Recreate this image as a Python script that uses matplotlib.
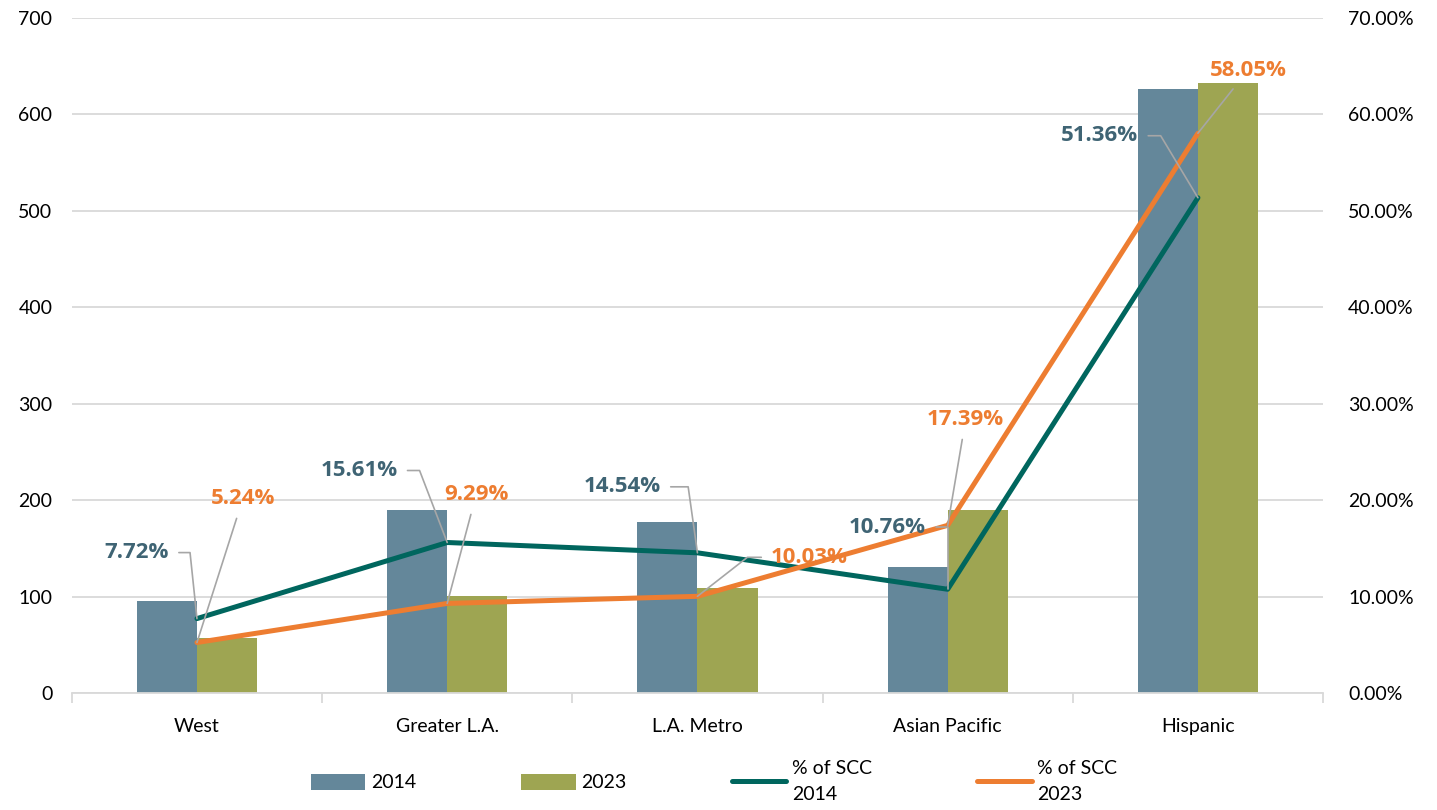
import numpy as np
import matplotlib
matplotlib.use("Agg")
import matplotlib.pyplot as plt
from matplotlib.ticker import FuncFormatter, MultipleLocator

plt.rcParams['font.family'] = ['Lato', 'DejaVu Sans']

categories = ['West', 'Greater L.A.', 'L.A. Metro', 'Asian Pacific', 'Hispanic']
counts_2014 = [95, 190, 177, 131, 626]
counts_2023 = [57, 101, 109, 190, 633]
pct_2014 = [7.72, 15.61, 14.54, 10.76, 51.36]
pct_2023 = [5.24, 9.29, 10.03, 17.39, 58.05]

c_bar14 = '#64879a'
c_bar23 = '#9ea552'
c_line14 = '#00665e'
c_line23 = '#ed7d31'
c_lab14 = '#3f6474'
c_lab23 = '#ed7d31'
c_lead = '#a6a6a6'

fig = plt.figure(figsize=(14.37, 8.10), dpi=100)
ax = fig.add_axes([0.050, 0.1444, 0.8707, 0.8334])
ax2 = ax.twinx()

x = np.arange(len(categories))
w = 0.24
ax.bar(x - w / 2, counts_2014, w, color=c_bar14, label='2014', zorder=2)
ax.bar(x + w / 2, counts_2023, w, color=c_bar23, label='2023', zorder=2)

l14, = ax2.plot(x, pct_2014, color=c_line14, lw=3.6, solid_capstyle='round',
                solid_joinstyle='round', label='% of SCC\n2014', zorder=3)
l23, = ax2.plot(x, pct_2023, color=c_line23, lw=3.6, solid_capstyle='round',
                solid_joinstyle='round', label='% of SCC\n2023', zorder=3)

ax.set_xlim(-0.5, len(categories) - 0.5)
ax.set_ylim(0, 700)
ax2.set_ylim(0, 70)
ax.yaxis.set_major_locator(MultipleLocator(100))
ax2.yaxis.set_major_locator(MultipleLocator(10))
ax2.yaxis.set_major_formatter(FuncFormatter(lambda v, p: f'{v:.2f}%'))

ax.grid(axis='y', color='#d9d9d9', lw=1.3, zorder=0)
ax.set_axisbelow(True)
for a in (ax, ax2):
    for s in ('top', 'left', 'right', 'bottom'):
        a.spines[s].set_visible(False)
ax.spines['bottom'].set_visible(True)
ax.spines['bottom'].set_color('#d9d9d9')
ax.spines['bottom'].set_linewidth(1.3)

ax.set_xticks(x)
ax.set_xticklabels(categories)
ax.set_xticks(np.arange(len(categories) + 1) - 0.5, minor=True)
ax.tick_params(axis='x', which='major', length=0, pad=18, labelsize=14, colors='black')
ax.tick_params(axis='x', which='minor', length=7, color='#d9d9d9', width=1.3)
ax.tick_params(axis='y', length=0, labelsize=14, pad=14)
ax2.tick_params(axis='y', length=0, labelsize=14, pad=18)

# data labels: (dx, dy) offset in pixels (up is positive), connector style
labels_14 = [(-60, 66, 'angle,angleA=0,angleB=96'),
             (-88, 72, 'angle,angleA=0,angleB=111'),
             (-75, 66, 'angle,angleA=0,angleB=98'),
             (-60, 62, 'angle,angleA=0,angleB=90'),
             (-98, 62, 'angle,angleA=0,angleB=121')]
labels_23 = [(46, 144, 'arc3'),
             (29, 109, 'arc3'),
             (112, 39, 'angle,angleA=0,angleB=38'),
             (18, 106, 'arc3'),
             (50, 63, 'arc3')]

lab_font = dict(family=['Open Sans', 'DejaVu Sans'], fontsize=16, fontweight='bold')
for i in range(len(categories)):
    dx, dy, cs = labels_14[i]
    ax2.annotate(f'{pct_2014[i]:.2f}%', (x[i], pct_2014[i]), xytext=(dx, dy),
                 textcoords='offset pixels', ha='center', va='center',
                 color=c_lab14, zorder=5, **lab_font,
                 arrowprops=dict(arrowstyle='-', color=c_lead, lw=1.2,
                                 connectionstyle=cs, shrinkA=5, shrinkB=0))
    dx, dy, cs = labels_23[i]
    ax2.annotate(f'{pct_2023[i]:.2f}%', (x[i], pct_2023[i]), xytext=(dx, dy),
                 textcoords='offset pixels', ha='center', va='center',
                 color=c_lab23, zorder=5, **lab_font,
                 arrowprops=dict(arrowstyle='-', color=c_lead, lw=1.2,
                                 connectionstyle=cs, shrinkA=5, shrinkB=0))

h1, lb1 = ax.get_legend_handles_labels()
leg = fig.legend(h1 + [l14, l23], lb1 + [l14.get_label(), l23.get_label()],
                 loc='upper center', bbox_to_anchor=(0.497, 0.083), ncol=4,
                 frameon=False, fontsize=14, handlelength=2.8, handleheight=0.9,
                 columnspacing=5.4, handletextpad=0.3)
for t in leg.get_texts():
    t.set_linespacing(1.6)

fig.savefig('out.png', dpi=100)
